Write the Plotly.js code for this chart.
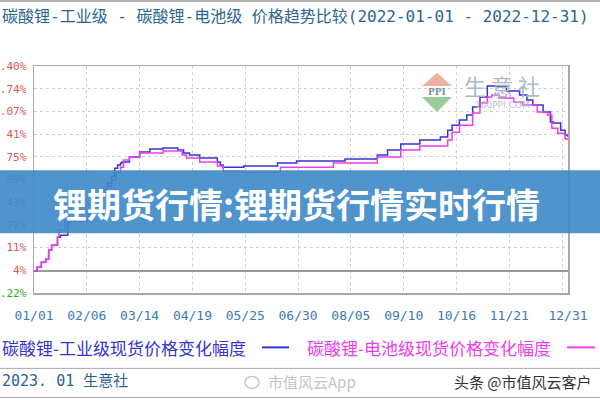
<!DOCTYPE html>
<html>
<head>
<meta charset="utf-8">
<script src="https://cdn.plot.ly/plotly-3.0.1.min.js"></script>
<style>html,body{margin:0;padding:0;background:#fff;}#chart{width:600px;height:400px;}</style>
</head>
<body>
<div id="chart"></div>
<script>
// ---- data ----
const industrialDates = ['2022-01-01','2022-01-03','2022-01-06','2022-01-09','2022-01-11','2022-01-13','2022-01-17','2022-01-19','2022-01-24','2022-01-26','2022-02-07','2022-02-10','2022-02-14','2022-02-17','2022-02-20','2022-02-23','2022-02-25','2022-02-27','2022-03-01','2022-03-02','2022-03-07','2022-03-14','2022-03-21','2022-03-30','2022-04-09','2022-04-13','2022-04-17','2022-04-24','2022-05-06','2022-05-08','2022-05-10','2022-05-24','2022-06-16','2022-06-29','2022-08-01','2022-08-23','2022-08-30','2022-09-08','2022-09-21','2022-10-05','2022-10-10','2022-10-13','2022-10-18','2022-10-23','2022-10-27','2022-11-01','2022-11-06','2022-11-13','2022-11-19','2022-11-28','2022-12-03','2022-12-07','2022-12-14','2022-12-19','2022-12-21','2022-12-26','2022-12-29','2022-12-31'];
const industrialChange = [0,2.3,5.3,7.1,12.5,15.5,20.4,21.6,29.4,30.6,35.4,39.7,44.5,48.7,52.9,57.1,61.9,63.8,65.0,65.6,68.6,71.6,73.4,74.0,72.8,71.0,69.8,68.0,65.6,63.8,62.5,63.2,65.0,66.2,67.4,69.8,72.8,76.4,78.8,80.6,84.8,87.8,90.9,93.9,98.7,104.7,111.4,110.8,108.3,105.9,102.9,99.9,95.7,89.7,89.1,84.8,81.8,80.6];

const batteryDates = ['2022-01-01','2022-01-03','2022-01-06','2022-01-09','2022-01-11','2022-01-13','2022-01-17','2022-01-18','2022-01-22','2022-02-07','2022-02-10','2022-02-14','2022-02-17','2022-02-20','2022-02-23','2022-02-26','2022-03-01','2022-03-03','2022-03-07','2022-03-14','2022-03-30','2022-04-12','2022-04-15','2022-04-24','2022-05-06','2022-05-10','2022-05-24','2022-06-18','2022-07-24','2022-08-23','2022-09-08','2022-09-21','2022-10-10','2022-10-13','2022-10-18','2022-10-27','2022-11-01','2022-11-06','2022-11-09','2022-11-14','2022-11-24','2022-11-30','2022-12-10','2022-12-17','2022-12-20','2022-12-24','2022-12-29','2022-12-31'];
const batteryChange = [0,2.3,5.3,7.1,12.5,15.5,20.4,24.6,30.0,34.2,38.4,42.7,46.9,51.1,54.7,59.5,62.5,66.8,68.6,71.0,72.2,69.8,68.0,65.6,63.2,60.1,59.5,62.5,65.0,68.6,72.8,75.2,78.8,83.6,87.8,95.1,101.1,104.7,105.9,104.1,101.7,99.9,95.7,93.9,86.0,83.0,79.4,78.8];

const seriesNames = ['碳酸锂-工业级现货价格变化幅度','碳酸锂-电池级现货价格变化幅度'];
const xTickDates = ['2022-01-01','2022-02-06','2022-03-14','2022-04-19','2022-05-25','2022-06-30','2022-08-05','2022-09-10','2022-10-16','2022-11-21','2022-12-27','2022-12-31'];
const xTickLabels = ['01/01','02/06','03/14','04/19','05/25','06/30','08/05','09/10','10/16','11/21','','12/31'];
const yTickValues = [123.40,109.74,96.07,82.41,68.75,55.09,41.43,27.77,14.11,0.44,-13.22];
const yTickLabels = ['.40%','.74%','.07%','41%','75%','09%','43%','77%','11%','4%','.22%'];

const chartTitle = '碳酸锂-工业级 - 碳酸锂-电池级 价格趋势比较(2022-01-01 - 2022-12-31)';
const bannerText = '锂期货行情:锂期货行情实时行情';

// ---- geometry helpers for decorations (pixels -> paper) ----
const L = 34, R = 568, T = 66, B = 292.7;
const px = x => (x - L) / (R - L);
const py = y => (B - y) / (B - T);

const blue = '#3535cf', magenta = '#ee3cee';
const mono = '"DejaVu Sans Mono", "Noto Sans CJK SC", monospace';
const cjk = '"Noto Sans CJK SC", "Noto Sans", sans-serif';

const traces = [
  {x: industrialDates, y: industrialChange, type: 'scatter', mode: 'lines', name: seriesNames[0],
   line: {color: blue, width: 1.5, shape: 'hv'}, hoverinfo: 'skip'},
  {x: batteryDates, y: batteryChange, type: 'scatter', mode: 'lines', name: seriesNames[1],
   line: {color: magenta, width: 1.5, shape: 'hv'}, hoverinfo: 'skip'}
];

const yText = yTickLabels.map((t, i) => yTickValues[i] < 0 ? '<span style="color:#2fa82f">' + t + '</span>' : t);

const shapes = [
  // banner
  {type: 'rect', xref: 'paper', yref: 'paper', x0: px(-5), x1: px(605), y0: py(233), y1: py(170),
   fillcolor: 'rgba(60,136,200,0.9)', line: {width: 0}, layer: 'above'},
  // separators
  {type: 'line', xref: 'paper', yref: 'paper', x0: px(0), x1: px(600), y0: py(1), y1: py(1), line: {color: '#999', width: 1.5}},
  {type: 'line', xref: 'paper', yref: 'paper', x0: px(0), x1: px(600), y0: py(368), y1: py(368), line: {color: '#aaa', width: 1}},
  {type: 'line', xref: 'paper', yref: 'paper', x0: px(0), x1: px(600), y0: py(397), y1: py(397), line: {color: '#aaa', width: 1}},
  // legend samples
  {type: 'line', xref: 'paper', yref: 'paper', x0: px(262), x1: px(289), y0: py(347), y1: py(347), line: {color: blue, width: 2}},
  {type: 'line', xref: 'paper', yref: 'paper', x0: px(567), x1: px(595), y0: py(347), y1: py(347), line: {color: magenta, width: 2}},
  // weibo-like icon before watermark text
  {type: 'circle', xref: 'paper', yref: 'paper', x0: px(245), x1: px(259), y0: py(388), y1: py(376),
   line: {color: '#c8c8c8', width: 1.5}},
  // logo triangles
  {type: 'path', xref: 'paper', yref: 'paper', layer: 'below',
   path: 'M ' + px(437) + ' ' + py(73) + ' L ' + px(452) + ' ' + py(86) + ' L ' + px(422) + ' ' + py(86) + ' Z',
   fillcolor: 'rgba(232,150,130,0.75)', line: {width: 0}},
  {type: 'path', xref: 'paper', yref: 'paper', layer: 'below',
   path: 'M ' + px(422) + ' ' + py(97) + ' L ' + px(452) + ' ' + py(97) + ' L ' + px(437) + ' ' + py(112) + ' Z',
   fillcolor: 'rgba(120,185,120,0.75)', line: {width: 0}}
];

const ann = (x, y, text, font, extra) => Object.assign({xref: 'paper', yref: 'paper', x: px(x), y: py(y), text: text,
  showarrow: false, font: font, xanchor: 'left', yanchor: 'middle'}, extra || {});

const annotations = [
  ann(0, 17, chartTitle, {family: mono, size: 16, color: '#2b6591'}),
  ann(296, 203, '<b>' + bannerText + '</b>', {family: cjk, size: 34, color: '#ffffff'}, {xanchor: 'center'}),
  ann(0, 347, seriesNames[0], {family: cjk, size: 17, color: blue}),
  ann(305, 347, seriesNames[1], {family: cjk, size: 17, color: magenta}),
  ann(0, 381, '2023. 01 生意社', {family: mono, size: 15, color: '#2e5f8f'}),
  ann(312, 381, '市值风云App', {family: cjk, size: 15, color: '#c4c4c4'}, {xanchor: 'center'}),
  ann(452, 381, '头条 @市值风云客户', {family: cjk, size: 15, color: '#333333'}),
  // logo texts
  ann(437, 91.5, '<b>PPI</b>', {family: 'DejaVu Serif', size: 9, color: '#7f8fa8'}, {xanchor: 'center'}),
  ann(502, 85, '生 意 社', {family: cjk, size: 22, color: '#a9b9c9'}, {xanchor: 'center'}),
  ann(502, 105, '100PPI.COM', {family: 'DejaVu Sans', size: 9, color: '#b8c2cc'}, {xanchor: 'center'})
];

const layout = {
  width: 600, height: 400,
  margin: {l: L, r: 600 - R, t: T, b: 400 - B},
  paper_bgcolor: '#ffffff', plot_bgcolor: '#ffffff',
  showlegend: false,
  xaxis: {type: 'date', range: ['2022-01-01', '2022-12-31'], tickmode: 'array', tickvals: xTickDates, ticktext: xTickLabels,
    ticks: '', ticklabelstandoff: 10, tickfont: {family: mono, size: 13, color: '#3d7ab0'},
    showgrid: true, gridcolor: '#cfcfcf', griddash: 'dot', gridwidth: 1,
    showline: true, linecolor: '#a8a8a8', linewidth: 1.5, mirror: true, zeroline: false, fixedrange: true},
  yaxis: {range: [-13.22, 123.40], tickmode: 'array', tickvals: yTickValues, ticktext: yText,
    ticks: '', ticklabelstandoff: 4, tickfont: {family: mono, size: 11, color: '#e05555'},
    showgrid: true, gridcolor: '#cfcfcf', griddash: 'dot', gridwidth: 1,
    showline: true, linecolor: '#a8a8a8', linewidth: 1.5, mirror: true,
    zeroline: true, zerolinecolor: '#9a9a9a', zerolinewidth: 1.5, fixedrange: true},
  shapes: shapes,
  annotations: annotations
};

Plotly.newPlot('chart', traces, layout, {staticPlot: true, displayModeBar: false});
</script>
</body>
</html>
